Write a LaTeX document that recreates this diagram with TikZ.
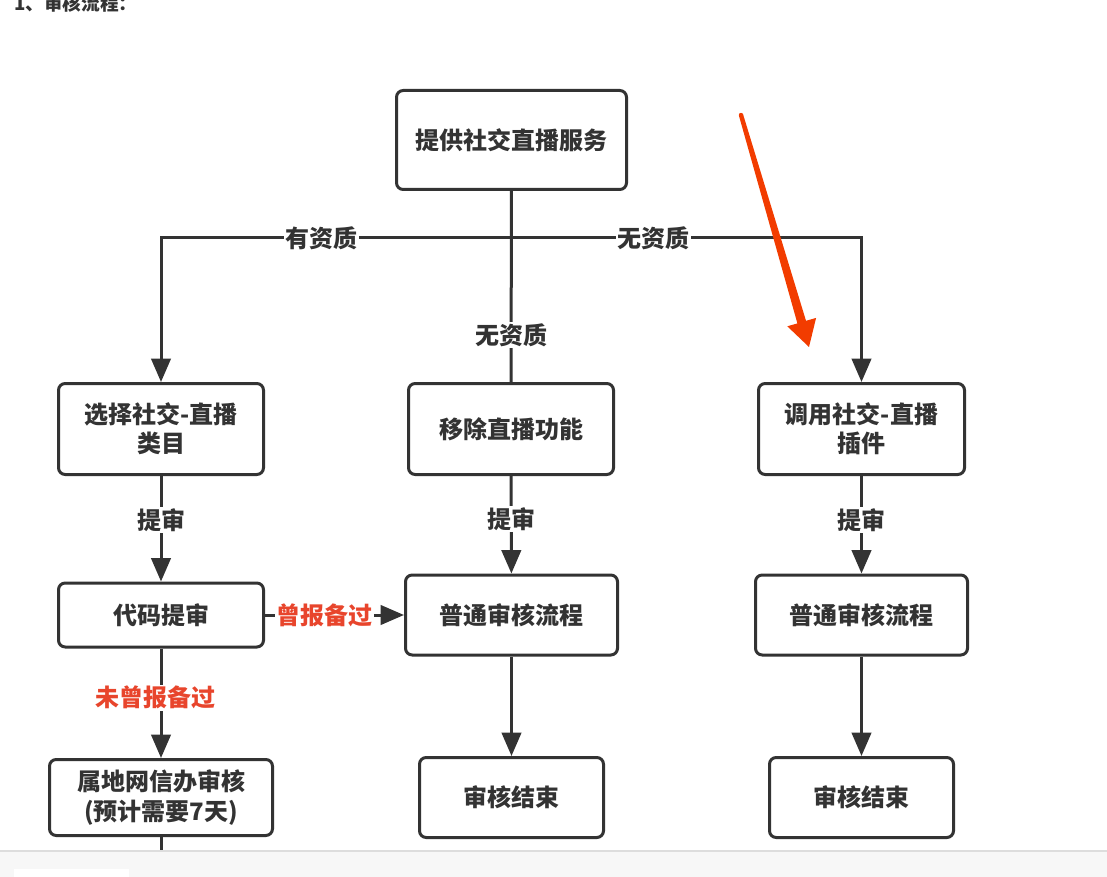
\documentclass[tikz,border=0pt]{standalone}
\usepackage{fontspec}
\setmainfont{Noto Sans CJK SC}
\usetikzlibrary{arrows.meta}
\definecolor{ink}{HTML}{333333}
\definecolor{redl}{HTML}{E8452C}
\definecolor{redarrow}{HTML}{F23C00}
\definecolor{band}{HTML}{F7F7F7}
\definecolor{bandline}{HTML}{DDDDDD}
\begin{document}
\begin{tikzpicture}[x=0.75pt,y=-0.75pt,
  box/.style={draw=ink, line width=2.25pt, rounded corners=5pt, fill=white, text=ink,
    font=\fontsize{18pt}{22pt}\selectfont\bfseries, align=center, inner sep=0pt},
  sz/.style 2 args={minimum width=#1*0.75pt-2.25pt, minimum height=#2*0.75pt-2.25pt},
  conn/.style={draw=ink, line width=2.25pt},
  arr/.style={conn, -{Triangle[width=14.5pt,length=17.5pt]}},
  lbl/.style={fill=white, text=ink, font=\fontsize{18pt}{20pt}\selectfont\bfseries, inner sep=1pt},
  rlbl/.style={lbl, text=redl}]
\useasboundingbox (0,0) rectangle (1107,877);
\clip (0,0) rectangle (1107,877);

% header (cut off at the top, as in the reference)
\node[anchor=base west, text=ink, font=\fontsize{14pt}{16pt}\selectfont\bfseries, inner sep=0pt] (hdr) at (14,11) {1、审核流程：};

% boxes
\node[box, sz={233}{102}] (top) at (511.5,140) {提供社交直播服务};
\node[box, sz={208}{94}] (sel) at (161,429) {选择社交-直播\\类目};
\node[box, sz={208}{94}] (rem) at (511,429) {移除直播功能};
\node[box, sz={209}{94}] (call) at (861.5,429) {调用社交-直播\\插件};
\node[box, sz={208}{67}] (code) at (161,615) {代码提审};
\node[box, sz={215}{83}] (norma) at (511.5,615) {普通审核流程};
\node[box, sz={215}{83}] (normb) at (861.5,615) {普通审核流程};
\node[box, sz={226}{79}] (local) at (161,797.5) {属地网信办审核\\(预计需要7天)};
\node[box, sz={187}{83}] (enda) at (511.5,797.5) {审核结束};
\node[box, sz={187}{83}] (endb) at (861.5,797.5) {审核结束};

% connectors
\coordinate (hub) at (511,238);
\draw[conn] (top) -- node[lbl, pos=0.754] {无资质} (rem);
\draw[arr] (hub) -| node[lbl, pos=0.271] {有资质} (sel);
\draw[arr] (hub) -| node[lbl, pos=0.203] {无资质} (call);
\draw[arr] (sel) -- node[lbl, pos=0.415] {提审} (code);
\draw[arr] (rem) -- node[lbl, pos=0.443] {提审} (norma);
\draw[arr] (call) -- node[lbl, pos=0.454] {提审} (normb);
\draw[arr] (code) -- node[rlbl, pos=0.43] {曾报备过} (norma);
\draw[arr] (code) -- node[rlbl, pos=0.45, xshift=-4.5pt] {未曾报备过} (local);
\draw[arr] (norma) -- (enda);
\draw[arr] (normb) -- (endb);

% bottom band
\coordinate (bandtop) at (161,851);
\draw[conn] (local) -- (bandtop);
\fill[band] (0,851) rectangle (1107,877);
\draw[bandline, line width=0.9pt] (0,851) -- (1107,851);
\fill[white] (14,869) rectangle (129,877);

% red annotation arrow
\fill[redarrow] (738.9,115.6) -- (797.4,323.4) -- (787.3,326.3) -- (809,347)
  -- (816.1,317.9) -- (806.0,320.8) -- (743.1,114.4) -- cycle;
\fill[redarrow] (741,115) circle[radius=1.65pt];
\end{tikzpicture}
\end{document}
